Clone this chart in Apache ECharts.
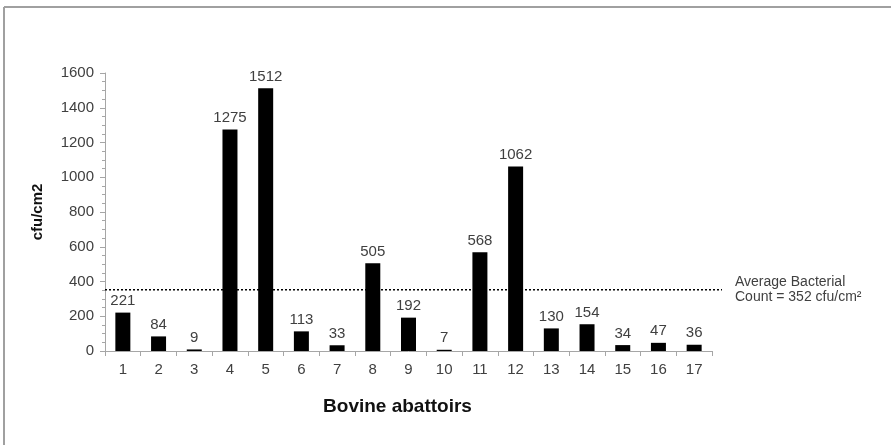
<!DOCTYPE html>
<html>
<head>
<meta charset="utf-8">
<script src="https://cdn.jsdelivr.net/npm/echarts@6/dist/echarts.min.js"></script>
<style>html,body{margin:0;padding:0;background:#fff}#c{width:891px;height:445px}</style>
</head>
<body>
<div id="c"></div>
<script>
var categories = ['1','2','3','4','5','6','7','8','9','10','11','12','13','14','15','16','17'];
var counts = [221, 84, 9, 1275, 1512, 113, 33, 505, 192, 7, 568, 1062, 130, 154, 34, 47, 36];
var averageCount = 352;
var averageLabel = 'Average Bacterial\nCount = 352 cfu/cm\u00B2';
var yTicks = [0, 1600, 200];

var chart = echarts.init(document.getElementById('c'));
var axisGray = '#a6a6a6';
var textGray = '#404040';
var font = 'Liberation Sans, Arial, sans-serif';
chart.setOption({
  backgroundColor: '#fff',
  animation: false,
  graphic: [
    {type: 'line', shape: {x1: 4, y1: 7, x2: 891, y2: 7}, style: {stroke: '#a0a0a0', lineWidth: 2}},
    {type: 'line', shape: {x1: 4, y1: 7, x2: 4, y2: 445}, style: {stroke: '#a0a0a0', lineWidth: 2}}
  ],
  grid: [
    {left: 105, right: 179, top: 73, bottom: 94},
    {left: 105, right: 169, top: 73, bottom: 94}
  ],
  xAxis: [
    {
      type: 'category', gridIndex: 0, data: categories,
      name: 'Bovine abattoirs', nameLocation: 'middle', nameGap: 46,
      nameTextStyle: {fontFamily: font, fontSize: 19, fontWeight: 'bold', color: '#111', padding: [0, 22, 0, 0]},
      axisLine: {lineStyle: {color: axisGray, width: 1}},
      axisTick: {show: true, length: 5, alignWithLabel: false, lineStyle: {color: axisGray}},
      axisLabel: {fontFamily: font, fontSize: 15, color: textGray, margin: 11},
      splitLine: {show: false}
    },
    {type: 'value', gridIndex: 1, min: 0, max: 1, show: false}
  ],
  yAxis: [
    {
      type: 'value', gridIndex: 0, min: yTicks[0], max: yTicks[1], interval: yTicks[2],
      name: 'cfu/cm2', nameLocation: 'middle', nameRotate: 90, nameGap: 60,
      nameTextStyle: {fontFamily: font, fontSize: 15, fontWeight: 'bold', color: '#111'},
      axisLine: {show: true, lineStyle: {color: axisGray, width: 1}},
      axisTick: {show: true, length: 5, lineStyle: {color: axisGray}},
      minorTick: {show: true, splitNumber: 4, length: 3, lineStyle: {color: axisGray}},
      axisLabel: {fontFamily: font, fontSize: 15, color: textGray, margin: 11, formatter: function (v) { return String(v); }},
      splitLine: {show: false}
    },
    {type: 'value', gridIndex: 1, min: yTicks[0], max: yTicks[1], show: false}
  ],
  series: [
    {
      type: 'bar', xAxisIndex: 0, yAxisIndex: 0, data: counts, barWidth: 15,
      itemStyle: {color: '#000'},
      label: {show: true, position: 'top', distance: 4, fontFamily: font, fontSize: 15, color: textGray}
    },
    {
      type: 'line', xAxisIndex: 1, yAxisIndex: 1,
      data: [[0, averageCount], [1, averageCount]],
      symbol: 'none',
      lineStyle: {color: '#000', width: 1.5, type: [2, 2]},
      endLabel: {show: true, formatter: averageLabel, distance: 13, fontFamily: font, fontSize: 14, lineHeight: 15, color: textGray, align: 'left'},
      silent: true
    }
  ]
});
</script>
</body>
</html>
